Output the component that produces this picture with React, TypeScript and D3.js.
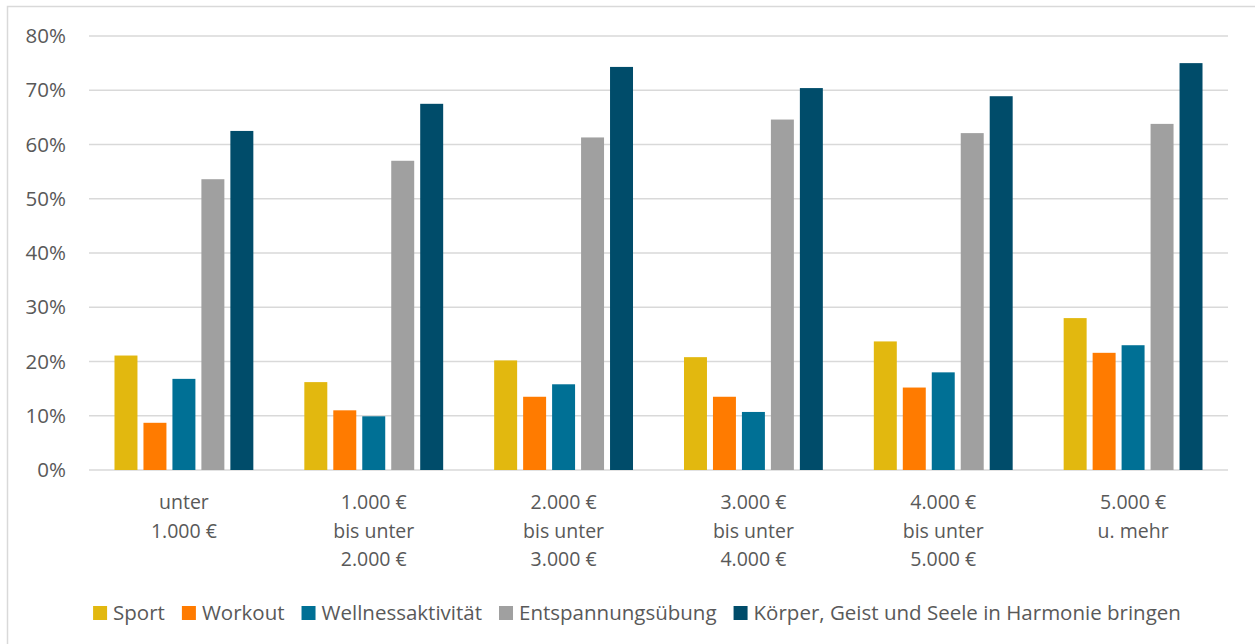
import React, { useEffect, useRef } from "react";
import * as d3 from "d3";

const categories = [
  ["unter", "1.000 €"],
  ["1.000 €", "bis unter", "2.000 €"],
  ["2.000 €", "bis unter", "3.000 €"],
  ["3.000 €", "bis unter", "4.000 €"],
  ["4.000 €", "bis unter", "5.000 €"],
  ["5.000 €", "u. mehr"],
];

const seriesNames = [
  "Sport",
  "Workout",
  "Wellnessaktivität",
  "Entspannungsübung",
  "Körper, Geist und Seele in Harmonie bringen",
];

const sport = [21.1, 16.2, 20.2, 20.8, 23.7, 28.0];
const workout = [8.7, 11.0, 13.5, 13.5, 15.2, 21.6];
const wellness = [16.8, 9.9, 15.8, 10.7, 18.0, 23.0];
const entspannung = [53.6, 57.0, 61.3, 64.6, 62.1, 63.8];
const koerper = [62.5, 67.5, 74.3, 70.4, 68.9, 75.0];

const yTicks = [0, 10, 20, 30, 40, 50, 60, 70, 80];

const colors = ["#E2B80F", "#FF7B00", "#007095", "#A0A0A0", "#004C6A"];

export default function App() {
  const ref = useRef<SVGSVGElement>(null);

  useEffect(() => {
    const svg = d3.select(ref.current);
    svg.selectAll("*").remove();
    const font = "'Open Sans', sans-serif";
    const textColor = "#595959";
    const values = [sport, workout, wellness, entspannung, koerper];

    // Rahmen
    svg
      .append("rect")
      .attr("x", 7.5)
      .attr("y", 6.5)
      .attr("width", 1260)
      .attr("height", 660)
      .attr("fill", "#fff")
      .attr("stroke", "#d9d9d9")
      .attr("stroke-width", 1.5);

    const x0 = d3
      .scaleBand<number>()
      .domain(categories.map((_, i) => i))
      .range([89, 1228]);
    const x1 = d3
      .scaleBand<number>()
      .domain(seriesNames.map((_, i) => i))
      .range([0, x0.bandwidth()])
      .paddingInner(0.207)
      .paddingOuter(0.88);
    const y = d3.scaleLinear().domain([0, 80]).range([470, 36]);

    // Gitterlinien + Achse
    const g = svg.append("g");
    g.selectAll("line.grid")
      .data(yTicks)
      .join("line")
      .attr("x1", 89)
      .attr("x2", 1228)
      .attr("y1", (d) => y(d))
      .attr("y2", (d) => y(d))
      .attr("stroke", "#d9d9d9")
      .attr("stroke-width", 1.5);

    g.selectAll("text.ytick")
      .data(yTicks)
      .join("text")
      .attr("x", 66)
      .attr("y", (d) => y(d))
      .attr("dy", "0.35em")
      .attr("text-anchor", "end")
      .attr("font-family", font)
      .attr("font-size", 20.5)
      .attr("fill", textColor)
      .text((d) => d + "%");

    // Balken
    values.forEach((arr, s) => {
      svg
        .append("g")
        .selectAll("rect")
        .data(arr)
        .join("rect")
        .attr("x", (_, i) => (x0(i) ?? 0) + (x1(s) ?? 0))
        .attr("y", (d) => y(d))
        .attr("width", x1.bandwidth())
        .attr("height", (d) => y(0) - y(d))
        .attr("fill", colors[s]);
    });

    // Kategorien
    categories.forEach((lines, i) => {
      const t = svg
        .append("text")
        .attr("text-anchor", "middle")
        .attr("font-family", font)
        .attr("font-size", 19.5)
        .attr("fill", textColor);
      lines.forEach((l, j) => {
        t.append("tspan")
          .attr("x", (x0(i) ?? 0) + x0.bandwidth() / 2)
          .attr("y", 509 + j * 28.5)
          .text(l);
      });
    });

    // Legende
    const leg = svg.append("g");
    let cx = 0;
    seriesNames.forEach((name, i) => {
      const item = leg.append("g").attr("transform", `translate(${cx},0)`);
      item
        .append("rect")
        .attr("x", 0)
        .attr("y", -7)
        .attr("width", 14)
        .attr("height", 14)
        .attr("fill", colors[i]);
      const t = item
        .append("text")
        .attr("x", 20)
        .attr("y", 0)
        .attr("dy", "0.35em")
        .attr("font-family", font)
        .attr("font-size", 20.5)
        .attr("fill", textColor)
        .text(name);
      const w = (t.node() as SVGTextElement).getComputedTextLength();
      cx += 20 + w + 17;
    });
    const total = cx - 17;
    leg.attr("transform", `translate(${637 - total / 2},613)`);
  }, []);

  return (
    <svg
      ref={ref}
      width={1255}
      height={644}
      style={{ position: "absolute", left: 0, top: 0 }}
    ></svg>
  );
}
